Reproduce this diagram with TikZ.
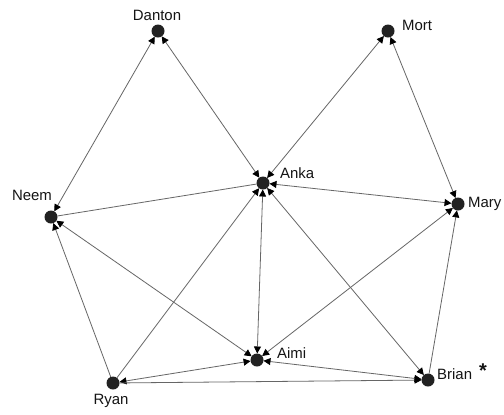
\documentclass[tikz,border=0pt]{standalone}
\usepackage{fontspec}
\setmainfont{Liberation Sans}
\usetikzlibrary{arrows.meta}
\definecolor{dotcol}{HTML}{222222}
\definecolor{linecol}{HTML}{666666}
\tikzset{
  actor/.style={circle, fill=dotcol, minimum size=13bp, inner sep=0pt, outer sep=0pt},
  actorlabel/.style={font=\fontsize{15}{17}\selectfont, text=black!92, inner sep=0pt},
  tip/.tip={Triangle[length=7bp,width=7bp,fill=black,color=black]},
  plain/.style={draw=linecol, line width=0.8bp},
  tie/.style={plain, -tip},
  mutual/.style={plain, tip-tip}
}
\begin{document}
\begin{tikzpicture}[x=1bp,y=-1bp]
\useasboundingbox[fill=white] (0,0) rectangle (504,414);
% actors
\node[actor] (danton) at (158,31) {};
\node[actor] (mort)   at (388,31) {};
\node[actor] (anka)   at (263,183) {};
\node[actor] (neem)   at (51,217) {};
\node[actor] (mary)   at (458,204) {};
\node[actor] (aimi)   at (257,360) {};
\node[actor] (brian)  at (428,380) {};
\node[actor] (ryan)   at (113,383) {};
% labels
\node[actorlabel] (ldanton) at (157,15) {Danton};
\node[actorlabel, anchor=west] (lmort) at (402,25) {Mort};
\node[actorlabel, anchor=west] (lanka) at (280,173) {Anka};
\node[actorlabel] (lneem) at (32,195) {Neem};
\node[actorlabel, anchor=west] (lmary) at (468,204) {Mary};
\node[actorlabel, anchor=west] (laimi) at (277,353) {Aimi};
\node[actorlabel, anchor=west] (lbrian) at (437,374) {Brian};
\node[actorlabel, font=\fontsize{20}{20}\selectfont\bfseries] (lstar) at (483,371) {*};
\node[actorlabel] (lryan) at (111,401) {Ryan};
% ties
\draw[mutual] (danton) -- (neem);
\draw[mutual] (danton) -- (anka);
\draw[mutual] (mort) -- (anka);
\draw[mutual] (mort) -- (mary);
\draw[plain] (anka) -- (neem);
\draw[mutual] (anka) -- (mary);
\draw[mutual] (anka) -- (aimi);
\draw[tie] (ryan) -- (anka);
\draw[mutual] (anka) -- (brian);
\draw[mutual] (neem) -- (aimi);
\draw[tie] (ryan) -- (neem);
\draw[mutual] (ryan) -- (aimi);
\draw[tie] (ryan) -- (brian);
\draw[mutual] (aimi) -- (brian);
\draw[mutual] (aimi) -- (mary);
\draw[tie] (brian) -- (mary);
\end{tikzpicture}
\end{document}
